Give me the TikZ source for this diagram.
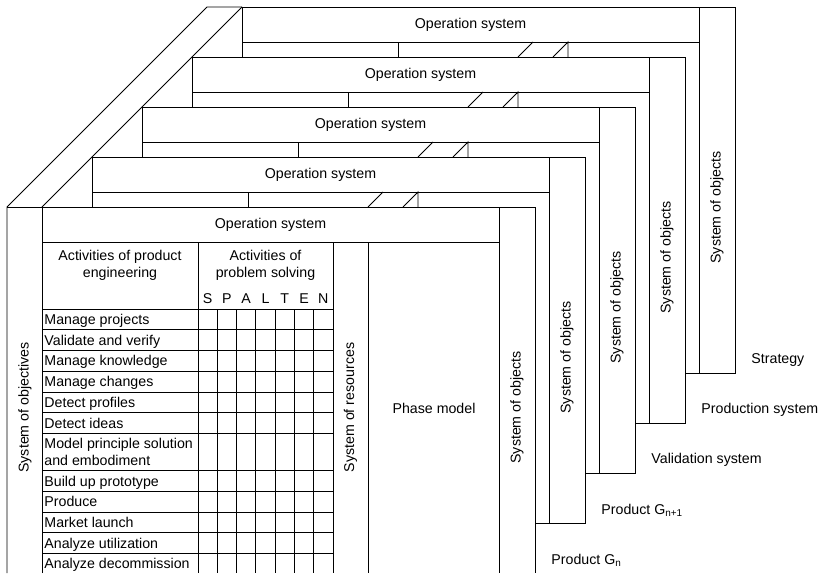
\documentclass[tikz,border=0pt]{standalone}
\usepackage{fontspec}
\setmainfont{Liberation Sans}
\begin{document}
\begin{tikzpicture}[x=1pt,y=-1pt,
  line width=0.9pt,
  txt/.style={font=\fontsize{14.2}{17}\selectfont, inner sep=0pt},
  rowtxt/.style={txt, anchor=base west},
  vtxt/.style={txt, rotate=90},
]
\useasboundingbox[fill=white] (0,0) rectangle (824,573);

% left band: system of objectives with its receding edge
\draw (7,573) -- (7,207) -- (207,7) -- (242,7);
\draw (7,207) -- (42,207);
\node[vtxt] (objectives) at (25,407.5) {System of objectives};

% stacked frames, drawn from back to front
\foreach \k/\lab in {4/Strategy, 3/Production system, 2/Validation system,
                     1/Product G\textsubscript{n+1}, 0/Product G\textsubscript{n}} {
  \pgfmathsetmacro\L{42+50*\k}
  \pgfmathsetmacro\T{207-50*\k}
  \pgfmathsetmacro\R{499+50*\k}
  \pgfmathsetmacro\B{535+50*\k}
  \pgfmathsetmacro\Bot{573-50*\k}
  \fill[white] (\L,\T) rectangle (\B,\Bot);
  \ifnum\k=0
    \draw (\L,\Bot) -- (\L,\T) -- (\B,\T) -- (\B,\Bot);
  \else
    \draw (\L,\T) rectangle (\B,\Bot);
    % visible strip between this header and the frame in front
    \draw (\L+156,\T+35) -- (\L+156,\T+50);
    \draw (\L+276,\T+50) -- (\L+291,\T+35);
    \draw (\L+311,\T+50) -- (\L+326,\T+35) -- (\L+326,\T+50);
  \fi
  \draw (\L,\T+35) -- (\R,\T+35);
  \draw (\R,\T) -- (\R,\Bot);
  \node[txt] (hdr\k) at ({(\L+\R)/2},\T+17.5) {Operation system};
  \node[vtxt] (obj\k) at ({(\R+\B)/2},{(\T+35+\Bot)/2}) {System of objects};
  \node[txt, anchor=west] (lab\k) at (\B+16,\Bot-13) {\lab};
}

% receding inner edge through the frame corners
\draw (42,207) -- (242,7);

% table of the front frame
\draw (198,242) -- (198,573);
\draw (333,242) -- (333,573);
\draw (368,242) -- (368,573);
\draw (42,309) -- (333,309);
\foreach \y in {329.7,350.5,371.2,392,412.7,433.4,470.6,491.3,512,532.7,553.4}
  \draw (42,\y) -- (333,\y);
\foreach \j in {1,...,6}
  \draw ({198+\j*19.286},309) -- ({198+\j*19.286},573);

\node[txt, align=center] (peng) at (120,265) {Activities of product\\engineering};
\node[txt, align=center] (psol) at (265.5,265) {Activities of\\problem solving};
\foreach \c [count=\i from 0] in {S,P,A,L,T,E,N}
  \node[txt, anchor=base] (sp\i) at ({207.6+\i*19.286},303) {\c};

\node[rowtxt] (r1)  at (44,324.4) {Manage projects};
\node[rowtxt] (r2)  at (44,345.1) {Validate and verify};
\node[rowtxt] (r3)  at (44,365.9) {Manage knowledge};
\node[rowtxt] (r4)  at (44,386.6) {Manage changes};
\node[rowtxt] (r5)  at (44,407.4) {Detect profiles};
\node[rowtxt] (r6)  at (44,428.1) {Detect ideas};
\node[txt, anchor=west, align=left] (r7) at (44,452.3) {Model principle solution\\and embodiment};
\node[rowtxt] (r8)  at (44,486.0) {Build up prototype};
\node[rowtxt] (r9)  at (44,506.7) {Produce};
\node[rowtxt] (r10) at (44,527.4) {Market launch};
\node[rowtxt] (r11) at (44,548.1) {Analyze utilization};
\node[rowtxt] (r12) at (44,568.4) {Analyze decommission};

\node[vtxt] (resources) at (350.5,407.5) {System of resources};
\node[txt] (phase) at (434,408) {Phase model};
\end{tikzpicture}
\end{document}
